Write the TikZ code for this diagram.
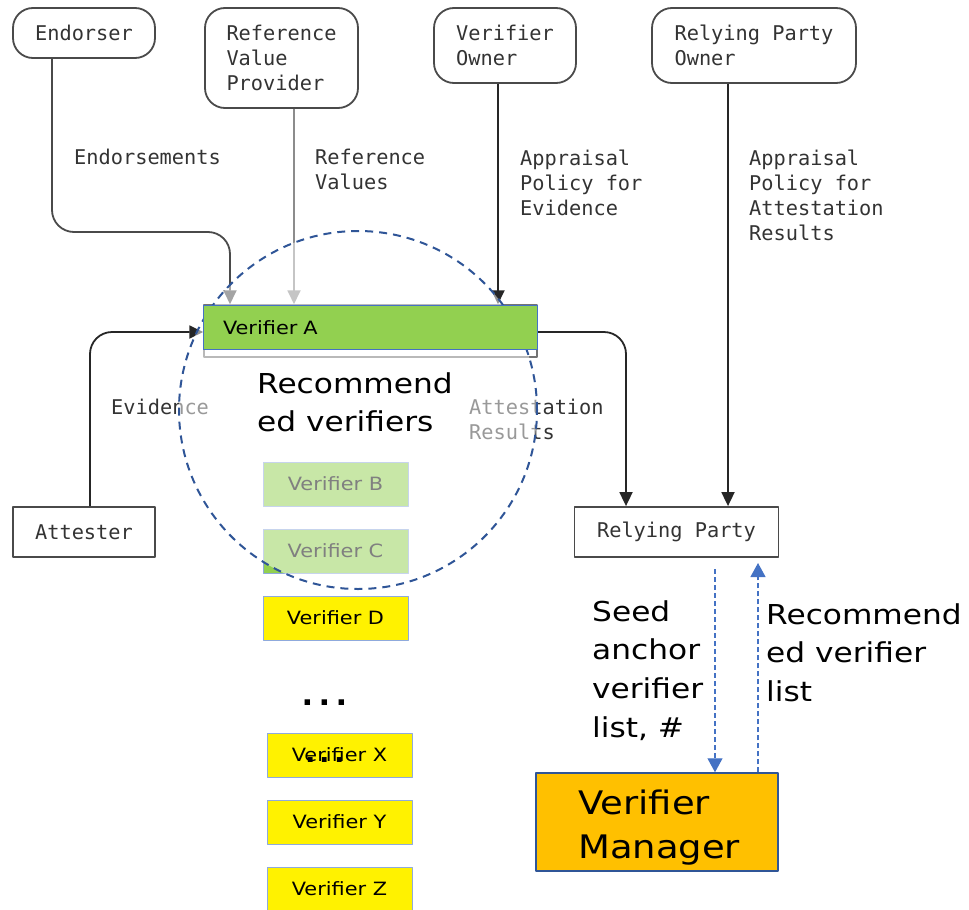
\documentclass[tikz,border=0pt]{standalone}
\usepackage{fontspec}
\setmainfont{DejaVu Sans}
\newfontfamily\monof{DejaVu Sans Mono}
\newfontfamily\wsans[FakeStretch=1.14]{DejaVu Sans}
\usetikzlibrary{arrows.meta}
\definecolor{bord}{HTML}{4A4A4A}
\definecolor{txt}{HTML}{333333}
\definecolor{vgreen}{HTML}{92D050}
\definecolor{vline}{HTML}{4472C4}
\definecolor{ylline}{HTML}{8FAADC}
\definecolor{circblue}{HTML}{2F5597}
\definecolor{recblue}{HTML}{4472C4}
\definecolor{vorange}{HTML}{FFC000}
\begin{document}
\begin{tikzpicture}[x=1pt,y=-1pt,line join=round,
  mono/.style={font=\monof\fontsize{20.3}{25}\selectfont, text=txt, inner sep=0pt, align=left},
  actor/.style={mono, draw=bord, line width=1.8pt, rounded corners=20pt},
  ent/.style={mono, draw=bord, line width=1.8pt},
  flow/.style={draw=bord, line width=1.8pt, rounded corners=22pt, -{Triangle[width=13pt,length=14pt]}},
  vrf/.style={draw=ylline, line width=1pt, inner sep=0pt, minimum width=145pt, minimum height=44pt, font=\wsans\fontsize{18.3}{22}\selectfont},
  big/.style={font=\wsans\fontsize{27.4}{38.7}\selectfont, inner sep=0pt, align=left},
  rec/.style={draw=recblue, line width=1.2pt, dash pattern=on 5pt off 3pt, -{Triangle[width=15pt,length=14pt,fill=recblue]}}
]
\useasboundingbox (0,0) rectangle (969,910);

% actors and entities
\node[actor, minimum width=142pt, minimum height=50pt] (endorser) at (84,33) {Endorser};
\node[actor, minimum width=153pt, minimum height=100pt] (rvp) at (281.5,58) {Reference\\Value\\Provider};
\node[actor, minimum width=142pt, minimum height=75pt] (vowner) at (505,45.5) {Verifier\\Owner};
\node[actor, minimum width=204pt, minimum height=75pt] (rpowner) at (754,45.5) {Relying Party\\Owner};
\node[ent, minimum width=142pt, minimum height=50pt] (attester) at (84,532) {Attester};
\node[ent, minimum width=204pt, minimum height=50pt] (rp) at (676.5,532) {Relying Party};

% original verifier box
\node[draw=black!55, line width=1.5pt, minimum width=333pt, minimum height=52pt, inner sep=0pt] (verifier) at (370.5,331) {};

% bend points
\coordinate (e1) at (52,232);
\coordinate (e2) at (230,232);
\coordinate (r1) at (294,232);
\coordinate (v1) at (498,232);
\coordinate (p1) at (728,232);
\coordinate (ev1) at (90,332);
\coordinate (at1) at (626,332);

% flows
\draw[flow] (endorser.south -| e1) -- (e1) -- (e2) -- (verifier.north -| e2);
\draw[flow, draw=black!45] (rvp.south -| r1) -- (verifier.north -| r1);
\draw[flow, draw=black!85] (vowner.south -| v1) -- (verifier.north -| v1);
\draw[flow, draw=black!85] (rpowner.south -| p1) -- (rp.north -| p1);
\draw[flow, draw=black!85] (attester.north -| ev1) -- (ev1) -- (verifier.west |- ev1);
\draw[flow, draw=black!85] (verifier.east |- at1) -- (at1) -- (rp.north -| at1);

% labels
\node[mono, anchor=west] (lend) at (74,157) {Endorsements};
\node[mono, anchor=north west] (lref) at (315,149) {Reference\\Values};
\node[mono, anchor=north west] (lape) at (520,150) {Appraisal\\Policy for\\Evidence};
\node[mono, anchor=north west] (lapa) at (749,150) {Appraisal\\Policy for\\Attestation\\Results};
\node[mono, anchor=west] (levi) at (111,407) {Evidence};
\node[mono, anchor=north west] (latt) at (469,399) {Attestation\\Results};

% verifiers under the recommendation area
\node[vrf, fill=vgreen] (vb) at (335.5,484) {Verifier B};
\node[vrf, fill=vgreen] (vc) at (335.5,551) {Verifier C};

% recommendation area
\node[circle, minimum size=358pt, inner sep=0pt, fill=white, fill opacity=0.5, draw=circblue, draw opacity=1, line width=2pt, dash pattern=on 8pt off 6pt] (area) at (358,410) {};

% verifier A
\node[fill=vgreen, draw=vline, line width=0.9pt, minimum width=334pt, minimum height=44pt, inner ysep=0pt, inner xsep=20pt, text width=294pt, align=left, font=\wsans\fontsize{18.3}{22}\selectfont] (va) at (370,327.5) {Verifier A};

\node[big, anchor=north west] (rectext) at (257,372) {Recommend\\ed verifiers};

% other verifiers
\node[vrf, fill=yellow] (vd) at (335.5,618) {Verifier D};
\node[font=\wsans\fontsize{46}{46}\selectfont, inner sep=0pt, anchor=base] (dots) at (325,705.5) {...};
\node[vrf, fill=yellow] (vx) at (339.5,755) {Verifier X};
\node[font=\wsans\fontsize{40}{40}\selectfont, inner sep=0pt, anchor=base] (xdots) at (325,762) {...};
\node[vrf, fill=yellow] (vy) at (339.5,822) {Verifier Y};
\node[vrf, fill=yellow] (vz) at (339.5,889) {Verifier Z};

% verifier manager
\node[draw=circblue, fill=vorange, line width=1.5pt, minimum width=242pt, minimum height=98pt, inner sep=0pt] (vm) at (657,822) {};
\node[font=\wsans\fontsize{32.4}{44}\selectfont, inner sep=0pt, align=left, anchor=north west] (vmtext) at (578,789.5) {Verifier\\Manager};

\coordinate (d1) at (715,569);
\coordinate (u1) at (758,563);
\draw[rec] (d1) -- (vm.north -| d1);
\draw[rec] (vm.north -| u1) -- (u1);

\node[big, anchor=north west] (seed) at (592,600) {Seed\\anchor\\verifier\\list, \#};
\node[big, anchor=north west] (reclist) at (766,603) {Recommend\\ed verifier\\list};
\end{tikzpicture}
\end{document}
